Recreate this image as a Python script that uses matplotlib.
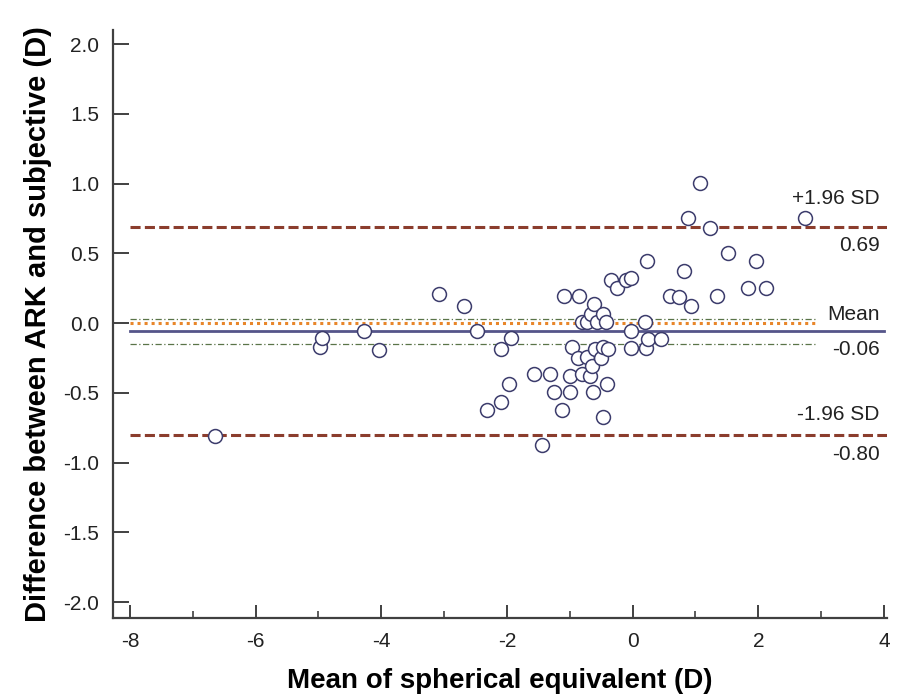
import numpy as np
import matplotlib.pyplot as plt

plt.rcParams['font.family'] = ['Liberation Sans', 'DejaVu Sans']
plt.rcParams['axes.unicode_minus'] = False

# Bland-Altman data
mean_se = [-6.65, -4.98, -4.95, -4.28, -4.04, -3.09, -2.69, -2.48, -2.10, -1.94,
           -1.97, -2.10, -2.32, -1.44, -1.57, -1.32, -1.25, -1.13, -1.10, -1.00,
           -1.00, -0.97, -0.87, -0.85, -0.81, -0.81, -0.73, -0.73, -0.68, -0.66,
           -0.65, -0.63, -0.62, -0.60, -0.56, -0.51, -0.47, -0.47, -0.47, -0.43,
           -0.41, -0.40, -0.34, -0.25, -0.10, -0.03, -0.03, -0.03, 0.19, 0.22,
           0.225, 0.25, 0.45, 0.59, 0.73, 0.82, 0.88, 0.93, 1.07, 1.23,
           1.35, 1.51, 1.83, 1.97, 2.13, 2.75]
diff = [-0.81, -0.17, -0.11, -0.06, -0.19, 0.21, 0.125, -0.06, -0.185, -0.11,
        -0.44, -0.565, -0.62, -0.876, -0.364, -0.364, -0.496, -0.625, 0.192, -0.376,
        -0.496, -0.173, -0.25, 0.192, 0.006, -0.364, 0.006, -0.245, -0.376, 0.066,
        -0.31, -0.496, 0.137, -0.185, 0.006, -0.25, 0.066, -0.173, -0.675, 0.006,
        -0.436, -0.185, 0.312, 0.252, 0.312, 0.324, -0.054, -0.178, 0.006, -0.178,
        0.448, -0.113, -0.113, 0.192, 0.185, 0.371, 0.754, 0.125, 1.005, 0.682,
        0.192, 0.503, 0.252, 0.448, 0.252, 0.754]

mean_diff = -0.06
upper_loa = 0.69
lower_loa = -0.80
ci_mean = [0.03, -0.15]
zero_line = 0.0

fig = plt.figure(figsize=(8.97, 7.0), dpi=100)
ax = fig.add_axes([0.126, 0.117, 0.863, 0.84])

dark = '#404040'
brown = '#8b3d2d'
navy = '#55558a'
orange = '#e8862a'
green = '#5a7448'

# reference lines
ax.plot([-8, 4.05], [upper_loa, upper_loa], color=brown, lw=2.2, dashes=(3.3, 1.4), zorder=2)
ax.plot([-8, 4.05], [lower_loa, lower_loa], color=brown, lw=2.2, dashes=(3.3, 1.4), zorder=2)
ax.plot([-8, 4.0], [mean_diff, mean_diff], color=navy, lw=2.0, zorder=2)
ax.plot([-8, 2.9], [zero_line, zero_line], color=orange, lw=2.2, dashes=(1, 1.3), zorder=2)
for c in ci_mean:
    ax.plot([-8, 2.92], [c, c], color=green, lw=0.9, dashes=(5, 2, 1, 2), zorder=2)

ax.scatter(mean_se, diff, s=100, facecolors='white', edgecolors='#3c3c6c',
           linewidths=1.1, zorder=3)

# labels at right
tx = 3.93
fs = 15
tc = '#222222'
ax.text(tx, upper_loa + 0.20, '+1.96 SD', ha='right', va='center', fontsize=fs, color=tc)
ax.text(tx, upper_loa - 0.135, '%.2f' % upper_loa, ha='right', va='center', fontsize=fs, color=tc)
ax.text(tx, mean_diff + 0.12, 'Mean', ha='right', va='center', fontsize=fs, color=tc)
ax.text(tx, mean_diff - 0.13, '%.2f' % mean_diff, ha='right', va='center', fontsize=fs, color=tc)
ax.text(tx, lower_loa + 0.145, '-1.96 SD', ha='right', va='center', fontsize=fs, color=tc)
ax.text(tx, lower_loa - 0.143, '%.2f' % lower_loa, ha='right', va='center', fontsize=fs, color=tc)

ax.set_xlim(-8.27, 4.05)
ax.set_ylim(-2.115, 2.1)
ax.set_xticks(np.arange(-8, 5, 2))
ax.set_xticks(np.arange(-7, 4, 2), minor=True)
ax.set_yticks(np.arange(-2.0, 2.01, 0.5))
ax.set_yticklabels(['%.1f' % v for v in np.arange(-2.0, 2.01, 0.5)])

for s in ['top', 'right']:
    ax.spines[s].set_visible(False)
for s in ['left', 'bottom']:
    ax.spines[s].set_color(dark)
    ax.spines[s].set_linewidth(1.6)

ax.tick_params(axis='y', direction='in', length=11.5, width=1.4, color=dark,
               labelsize=15, pad=10, labelcolor=tc)
ax.tick_params(axis='x', which='major', direction='in', length=9.5, width=1.4, color=dark,
               labelsize=15, pad=10, labelcolor=tc)
ax.tick_params(axis='x', which='minor', direction='in', length=5, width=1.2, color=dark)

ax.set_xlabel('Mean of spherical equivalent (D)', fontsize=20, fontweight='bold', labelpad=12)
ax.set_ylabel('Difference between ARK and subjective (D)', fontsize=21, fontweight='bold', labelpad=8)

fig.savefig('out.png', dpi=100)
